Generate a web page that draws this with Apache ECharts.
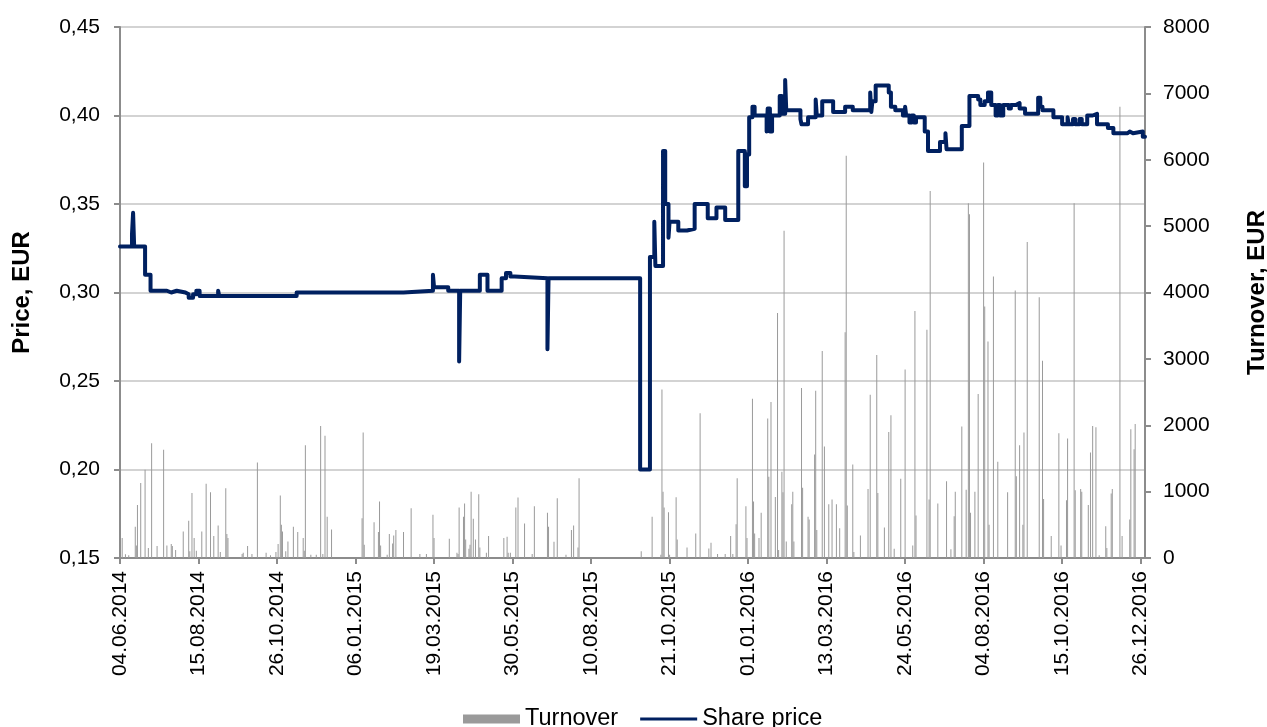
<!DOCTYPE html>
<html>
<head>
<meta charset="utf-8">
<script src="https://cdn.jsdelivr.net/npm/echarts@6/dist/echarts.min.js"></script>
<style>
  html, body { margin: 0; padding: 0; background: #ffffff; }
  #chart { width: 1267px; height: 727px; }
</style>
</head>
<body>
<div id="chart"></div>
<script>
// Share price (EUR): date on which the closing price changed, and the new price
const sharePrice = [
  ['2014-06-04', 0.326], ['2014-06-15', 0.333], ['2014-06-16', 0.345], ['2014-06-17', 0.326],
  ['2014-06-27', 0.310], ['2014-07-02', 0.301], ['2014-07-17', 0.300], ['2014-07-21', 0.301],
  ['2014-07-26', 0.300], ['2014-08-03', 0.299], ['2014-08-06', 0.297], ['2014-08-10', 0.299],
  ['2014-08-13', 0.301], ['2014-08-16', 0.298], ['2014-09-02', 0.301], ['2014-09-03', 0.298],
  ['2014-11-13', 0.300], ['2015-02-19', 0.301], ['2015-03-18', 0.310], ['2015-03-19', 0.303],
  ['2015-04-01', 0.301], ['2015-04-11', 0.261], ['2015-04-12', 0.301], ['2015-04-30', 0.310],
  ['2015-05-07', 0.301], ['2015-05-20', 0.308], ['2015-05-24', 0.311], ['2015-05-28', 0.309],
  ['2015-06-01', 0.308], ['2015-07-01', 0.268], ['2015-07-02', 0.308], ['2015-09-24', 0.200],
  ['2015-10-03', 0.320], ['2015-10-07', 0.340], ['2015-10-08', 0.315], ['2015-10-15', 0.380],
  ['2015-10-17', 0.350], ['2015-10-20', 0.331], ['2015-10-21', 0.340], ['2015-10-29', 0.335],
  ['2015-11-06', 0.336], ['2015-11-13', 0.350], ['2015-11-25', 0.342], ['2015-12-03', 0.348],
  ['2015-12-11', 0.341], ['2015-12-23', 0.380], ['2015-12-29', 0.360], ['2015-12-31', 0.378],
  ['2016-01-02', 0.399], ['2016-01-05', 0.405], ['2016-01-07', 0.400], ['2016-01-18', 0.391],
  ['2016-01-19', 0.404], ['2016-01-21', 0.391], ['2016-01-23', 0.400], ['2016-01-30', 0.411],
  ['2016-02-01', 0.401], ['2016-02-04', 0.420], ['2016-02-05', 0.403], ['2016-02-18', 0.398],
  ['2016-02-19', 0.395], ['2016-02-25', 0.399], ['2016-03-03', 0.409], ['2016-03-04', 0.400],
  ['2016-03-09', 0.408], ['2016-03-19', 0.402], ['2016-03-30', 0.405], ['2016-04-06', 0.403],
  ['2016-04-22', 0.413], ['2016-04-23', 0.402], ['2016-04-24', 0.408], ['2016-04-27', 0.417],
  ['2016-05-09', 0.413], ['2016-05-11', 0.405], ['2016-05-15', 0.403], ['2016-05-22', 0.400],
  ['2016-05-24', 0.405], ['2016-05-25', 0.400], ['2016-05-28', 0.396], ['2016-05-30', 0.400],
  ['2016-06-01', 0.396], ['2016-06-03', 0.399], ['2016-06-11', 0.391], ['2016-06-14', 0.380],
  ['2016-06-25', 0.385], ['2016-06-30', 0.390], ['2016-07-01', 0.381], ['2016-07-15', 0.394],
  ['2016-07-22', 0.411], ['2016-07-30', 0.409], ['2016-08-01', 0.406], ['2016-08-05', 0.408],
  ['2016-08-08', 0.413], ['2016-08-11', 0.406], ['2016-08-15', 0.400], ['2016-08-17', 0.406],
  ['2016-08-19', 0.400], ['2016-08-22', 0.406], ['2016-08-27', 0.404], ['2016-08-29', 0.406],
  ['2016-09-03', 0.407], ['2016-09-06', 0.404], ['2016-09-11', 0.401], ['2016-09-23', 0.410],
  ['2016-09-25', 0.405], ['2016-09-27', 0.403], ['2016-10-07', 0.399], ['2016-10-15', 0.395],
  ['2016-10-20', 0.399], ['2016-10-21', 0.395], ['2016-10-25', 0.398], ['2016-10-27', 0.395],
  ['2016-10-31', 0.398], ['2016-11-02', 0.395], ['2016-11-07', 0.400], ['2016-11-12', 0.401],
  ['2016-11-16', 0.395], ['2016-11-26', 0.393], ['2016-12-01', 0.390], ['2016-12-14', 0.391],
  ['2016-12-16', 0.390], ['2016-12-19', 0.391], ['2016-12-28', 0.388], ['2016-12-30', 0.388]
];

// Daily turnover (EUR) on trading days
const turnover = [
  ['2014-06-06', 300], ['2014-06-09', 55], ['2014-06-12', 40], ['2014-06-18', 470],
  ['2014-06-19', 190], ['2014-06-20', 800], ['2014-06-23', 1130], ['2014-06-27', 1330],
  ['2014-06-30', 150], ['2014-07-03', 1730], ['2014-07-08', 180], ['2014-07-14', 1630],
  ['2014-07-17', 190], ['2014-07-21', 210], ['2014-07-22', 180], ['2014-07-25', 120],
  ['2014-08-01', 400], ['2014-08-06', 560], ['2014-08-07', 100], ['2014-08-09', 980],
  ['2014-08-11', 300], ['2014-08-13', 110], ['2014-08-18', 400], ['2014-08-22', 1120],
  ['2014-08-26', 990], ['2014-08-29', 330], ['2014-09-02', 490], ['2014-09-04', 90],
  ['2014-09-09', 1050], ['2014-09-10', 360], ['2014-09-11', 300], ['2014-09-24', 60],
  ['2014-09-25', 80], ['2014-09-29', 180], ['2014-10-03', 60], ['2014-10-08', 1440],
  ['2014-10-16', 80], ['2014-10-20', 40], ['2014-10-25', 90], ['2014-10-27', 210],
  ['2014-10-29', 940], ['2014-10-30', 500], ['2014-10-31', 400], ['2014-11-03', 100],
  ['2014-11-05', 250], ['2014-11-10', 470], ['2014-11-14', 390], ['2014-11-19', 300],
  ['2014-11-20', 110], ['2014-11-21', 1700], ['2014-11-26', 50], ['2014-12-01', 50],
  ['2014-12-05', 1990], ['2014-12-07', 60], ['2014-12-09', 1840], ['2014-12-11', 620],
  ['2014-12-15', 430], ['2015-01-12', 600], ['2015-01-13', 1890], ['2015-01-14', 200],
  ['2015-01-23', 540], ['2015-01-27', 390], ['2015-01-28', 850], ['2015-01-29', 190],
  ['2015-02-04', 50], ['2015-02-06', 360], ['2015-02-09', 220], ['2015-02-10', 340],
  ['2015-02-12', 420], ['2015-02-19', 390], ['2015-02-26', 750], ['2015-03-06', 60],
  ['2015-03-12', 60], ['2015-03-18', 650], ['2015-03-19', 300], ['2015-04-02', 290],
  ['2015-04-09', 80], ['2015-04-10', 60], ['2015-04-11', 760], ['2015-04-15', 620],
  ['2015-04-16', 820], ['2015-04-17', 280], ['2015-04-20', 140], ['2015-04-21', 200],
  ['2015-04-22', 1000], ['2015-04-24', 590], ['2015-04-26', 280], ['2015-04-29', 960],
  ['2015-04-30', 160], ['2015-05-06', 80], ['2015-05-08', 330], ['2015-05-22', 300],
  ['2015-05-25', 320], ['2015-05-26', 80], ['2015-05-28', 80], ['2015-06-02', 760],
  ['2015-06-04', 910], ['2015-06-10', 520], ['2015-06-17', 60], ['2015-06-19', 780],
  ['2015-07-01', 680], ['2015-07-02', 470], ['2015-07-07', 245], ['2015-07-10', 900],
  ['2015-07-18', 50], ['2015-07-23', 420], ['2015-07-25', 490], ['2015-07-29', 160],
  ['2015-07-30', 1200], ['2015-09-25', 100], ['2015-10-05', 620], ['2015-10-13', 50],
  ['2015-10-14', 2540], ['2015-10-15', 1000], ['2015-10-16', 760], ['2015-10-20', 690],
  ['2015-10-21', 50], ['2015-10-27', 915], ['2015-10-28', 280], ['2015-11-06', 160],
  ['2015-11-14', 370], ['2015-11-18', 2180], ['2015-11-26', 145], ['2015-11-28', 230],
  ['2015-12-04', 60], ['2015-12-11', 60], ['2015-12-16', 330], ['2015-12-18', 60],
  ['2015-12-21', 510], ['2015-12-22', 1200], ['2015-12-30', 780], ['2015-12-31', 300],
  ['2016-01-05', 2400], ['2016-01-06', 850], ['2016-01-07', 370], ['2016-01-11', 300],
  ['2016-01-13', 680], ['2016-01-19', 2100], ['2016-01-20', 1225], ['2016-01-22', 2350],
  ['2016-01-26', 920], ['2016-01-28', 3690], ['2016-01-29', 120], ['2016-02-01', 1300],
  ['2016-02-02', 990], ['2016-02-03', 4930], ['2016-02-05', 250], ['2016-02-10', 810],
  ['2016-02-11', 1000], ['2016-02-12', 250], ['2016-02-19', 2560], ['2016-02-20', 1060],
  ['2016-02-25', 620], ['2016-02-26', 580], ['2016-03-02', 1560], ['2016-03-03', 2520],
  ['2016-03-04', 420], ['2016-03-09', 3120], ['2016-03-11', 1680], ['2016-03-15', 810],
  ['2016-03-18', 880], ['2016-03-22', 810], ['2016-03-25', 450], ['2016-03-30', 3400],
  ['2016-03-31', 6060], ['2016-04-01', 790], ['2016-04-06', 1410], ['2016-04-07', 90],
  ['2016-04-13', 340], ['2016-04-20', 1040], ['2016-04-22', 2460], ['2016-04-28', 3060],
  ['2016-04-29', 980], ['2016-05-05', 460], ['2016-05-09', 1900], ['2016-05-11', 2150],
  ['2016-05-14', 140], ['2016-05-20', 1195], ['2016-05-24', 2840], ['2016-05-31', 190],
  ['2016-06-02', 3720], ['2016-06-03', 640], ['2016-06-13', 3440], ['2016-06-15', 880],
  ['2016-06-16', 5530], ['2016-06-23', 820], ['2016-07-01', 1155], ['2016-07-05', 130],
  ['2016-07-08', 630], ['2016-07-09', 1000], ['2016-07-15', 1980], ['2016-07-19', 1030],
  ['2016-07-21', 5345], ['2016-07-22', 5180], ['2016-07-23', 680], ['2016-07-27', 1000],
  ['2016-07-30', 2470], ['2016-08-04', 5960], ['2016-08-05', 3790], ['2016-08-08', 3260],
  ['2016-08-09', 500], ['2016-08-13', 4240], ['2016-08-17', 1450], ['2016-08-26', 990],
  ['2016-09-02', 4030], ['2016-09-03', 1230], ['2016-09-06', 1700], ['2016-09-09', 500],
  ['2016-09-10', 1890], ['2016-09-13', 4760], ['2016-09-24', 3930], ['2016-09-27', 2970],
  ['2016-09-28', 890], ['2016-10-05', 330], ['2016-10-12', 1880], ['2016-10-14', 190],
  ['2016-10-19', 870], ['2016-10-20', 1800], ['2016-10-26', 5345], ['2016-10-27', 1020],
  ['2016-11-01', 1040], ['2016-11-02', 1000], ['2016-11-08', 800], ['2016-11-10', 1590],
  ['2016-11-12', 1990], ['2016-11-15', 1970], ['2016-11-18', 40], ['2016-11-24', 480],
  ['2016-11-25', 150], ['2016-11-29', 970], ['2016-11-30', 1040], ['2016-12-07', 6800],
  ['2016-12-09', 330], ['2016-12-16', 580], ['2016-12-17', 1940], ['2016-12-20', 1640],
  ['2016-12-21', 2020]
];

// Date axis: first/last day shown and the labelled dates (every 72 days)
const dateRange = ['2014-06-04', '2016-12-30'];
const dateTicks = ['04.06.2014', '15.08.2014', '26.10.2014', '06.01.2015', '19.03.2015',
  '30.05.2015', '10.08.2015', '21.10.2015', '01.01.2016', '13.03.2016', '24.05.2016',
  '04.08.2016', '15.10.2016', '26.12.2016'];
const priceAxisRange = [0.15, 0.45, 0.05];
const turnoverAxisRange = [0, 8000, 1000];

const DAY = 86400000;
const toTs = s => { const p = s.split('-').map(Number); return Date.UTC(p[0], p[1] - 1, p[2]); };
const fmtDate = v => {
  const d = new Date(v);
  const pad = n => (n < 10 ? '0' : '') + n;
  return pad(d.getUTCDate()) + '.' + pad(d.getUTCMonth() + 1) + '.' + d.getUTCFullYear();
};
const tickTs = dateTicks.map(s => { const p = s.split('.'); return toTs(p[2] + '-' + p[1] + '-' + p[0]); });

const FONT = '"Liberation Sans", Arial, sans-serif';
const AXIS_GREY = '#8c8c8c';
const PRICE_BLUE = '#002060';

const chart = echarts.init(document.getElementById('chart'), null, { renderer: 'canvas' });
chart.setOption({
  animation: false,
  backgroundColor: '#ffffff',
  textStyle: { fontFamily: FONT, color: '#000' },
  grid: { left: 120, right: 122, top: 27, bottom: 169, containLabel: false, outerBoundsMode: 'none' },
  legend: {
    left: 458,
    top: 702,
    itemWidth: 57,
    itemHeight: 9,
    itemGap: 22,
    textStyle: { fontFamily: FONT, fontSize: 23.5, color: '#000' },
    data: [
      { name: 'Turnover', icon: 'rect' },
      { name: 'Share price', icon: 'path://M0,0 H60 V3 H0 Z', symbolKeepAspect: true,
        itemStyle: { color: PRICE_BLUE } }
    ]
  },
  xAxis: {
    type: 'value',
    min: toTs(dateRange[0]),
    max: toTs(dateRange[1]),
    interval: 72 * DAY,
    splitLine: { show: false },
    axisLine: { show: true, lineStyle: { color: AXIS_GREY, width: 2 } },
    axisTick: { show: true, inside: false, length: 6, lineStyle: { color: AXIS_GREY, width: 2 },
                customValues: tickTs },
    axisLabel: {
      rotate: 90,
      margin: 13,
      fontSize: 21,
      fontFamily: FONT,
      color: '#000',
      customValues: tickTs,
      formatter: v => (tickTs.indexOf(v) >= 0 ? fmtDate(v) : '')
    }
  },
  yAxis: [
    {
      type: 'value',
      position: 'left',
      min: priceAxisRange[0], max: priceAxisRange[1], interval: priceAxisRange[2],
      name: 'Price, EUR',
      nameLocation: 'middle',
      nameRotate: 90,
      nameGap: 86,
      nameTextStyle: { fontFamily: FONT, fontSize: 24, fontWeight: 'bold', color: '#000' },
      axisLine: { show: true, lineStyle: { color: AXIS_GREY, width: 2 } },
      axisTick: { show: true, length: 6, lineStyle: { color: AXIS_GREY, width: 2 } },
      axisLabel: { margin: 20, fontSize: 21, fontFamily: FONT, color: '#000',
                   formatter: v => v.toFixed(2).replace('.', ',') },
      splitLine: { show: true, lineStyle: { color: '#c4c4c4', width: 1.5 } }
    },
    {
      type: 'value',
      position: 'right',
      min: turnoverAxisRange[0], max: turnoverAxisRange[1], interval: turnoverAxisRange[2],
      name: 'Turnover, EUR',
      nameLocation: 'middle',
      nameRotate: 90,
      nameGap: 100,
      nameTextStyle: { fontFamily: FONT, fontSize: 24, fontWeight: 'bold', color: '#000' },
      axisLine: { show: true, lineStyle: { color: AXIS_GREY, width: 2 } },
      axisTick: { show: true, length: 6, lineStyle: { color: AXIS_GREY, width: 2 } },
      axisLabel: { margin: 18, fontSize: 21, fontFamily: FONT, color: '#000',
                   formatter: v => String(Math.round(v)) },
      splitLine: { show: false }
    }
  ],
  series: [
    {
      name: 'Turnover',
      type: 'bar',
      yAxisIndex: 1,
      barWidth: 1,
      itemStyle: { color: '#9a9a9a' },
      data: turnover.map(d => [toTs(d[0]), d[1]])
    },
    {
      name: 'Share price',
      type: 'line',
      yAxisIndex: 0,
      step: 'end',
      symbol: 'none',
      showSymbol: false,
      lineStyle: { color: PRICE_BLUE, width: 4, join: 'round', cap: 'round' },
      itemStyle: { color: PRICE_BLUE },
      data: sharePrice.map(d => [toTs(d[0]), d[1]])
    }
  ]
});
</script>
</body>
</html>
